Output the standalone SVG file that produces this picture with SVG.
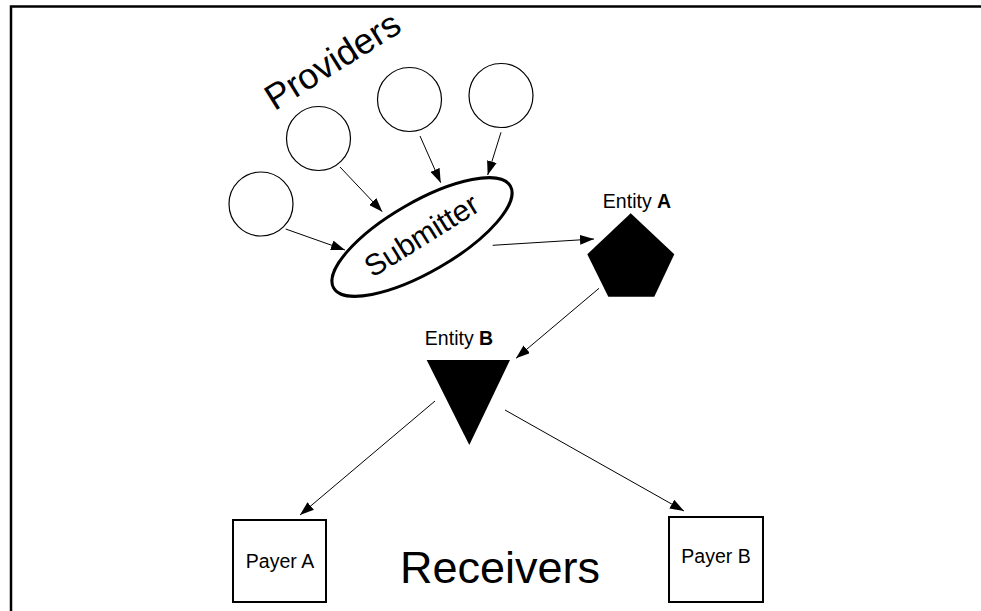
<svg xmlns="http://www.w3.org/2000/svg" width="981" height="611" viewBox="0 0 981 611">
<style>
text{font-family:"Liberation Sans",Arial,sans-serif;fill:#000}
.prov{fill:#fff;stroke:#000;stroke-width:1.2}
.conn{stroke:#000;stroke-width:1;fill:none;marker-end:url(#ah)}
.box{fill:#fff;stroke:#000;stroke-width:2}
.lbl{font-size:19.5px;text-anchor:middle}
</style>
<defs>
<marker id="ah" markerUnits="userSpaceOnUse" markerWidth="14" markerHeight="10" viewBox="0 0 14 10" refX="14" refY="5" orient="auto">
<path d="M0,0 L14,5 L0,10 Z" fill="#000"/>
</marker>
</defs>
<rect width="981" height="611" fill="#fff"/>
<path d="M11,611 V6.5 H981" fill="none" stroke="#000" stroke-width="2.5"/>
<text x="339" y="71" font-size="36" text-anchor="middle" transform="rotate(-32 339 71)">Providers</text>
<g id="provider1"><circle class="prov" cx="261" cy="204" r="32"/></g>
<g id="provider2"><circle class="prov" cx="318.5" cy="138.5" r="32"/></g>
<g id="provider3"><circle class="prov" cx="409.5" cy="99.5" r="32"/></g>
<g id="provider4"><circle class="prov" cx="501" cy="95.5" r="32"/></g>
<g id="submitter">
<ellipse cx="422" cy="237" rx="102" ry="35" transform="rotate(-30 422 237)" fill="#fff" stroke="#000" stroke-width="3"/>
<text x="427" y="244" font-size="30" text-anchor="middle" transform="rotate(-32 427 244)">Submitter</text>
</g>
<g id="entityA">
<text class="lbl" x="637" y="208">Entity <tspan font-weight="bold">A</tspan></text>
<polygon points="630.7,213.3 674.3,254.3 654.3,296.7 608.3,296.7 587.3,254.3" fill="#000"/>
</g>
<g id="entityB">
<text class="lbl" x="459" y="345">Entity <tspan font-weight="bold">B</tspan></text>
<polygon points="426.7,360 510,360 469.3,445" fill="#000"/>
</g>
<g id="payerA">
<rect class="box" x="233" y="520" width="93" height="82"/>
<text class="lbl" x="280" y="568">Payer A</text>
</g>
<g id="payerB">
<rect class="box" x="669" y="517" width="94" height="85"/>
<text class="lbl" x="716" y="563">Payer B</text>
</g>
<text x="500" y="583" font-size="45" text-anchor="middle">Receivers</text>
<g id="connectors">
<line class="conn" x1="285.7" y1="229" x2="345" y2="250"/>
<line class="conn" x1="340" y1="167" x2="382.3" y2="211.7"/>
<line class="conn" x1="420" y1="136" x2="440.7" y2="182.7"/>
<line class="conn" x1="501" y1="132.3" x2="487.7" y2="175"/>
<line class="conn" x1="492.7" y1="245.3" x2="594" y2="239"/>
<line class="conn" x1="599" y1="288.3" x2="516" y2="358.3"/>
<line class="conn" x1="435" y1="401" x2="300" y2="515"/>
<line class="conn" x1="505" y1="410" x2="684" y2="511"/>
</g>
</svg>
